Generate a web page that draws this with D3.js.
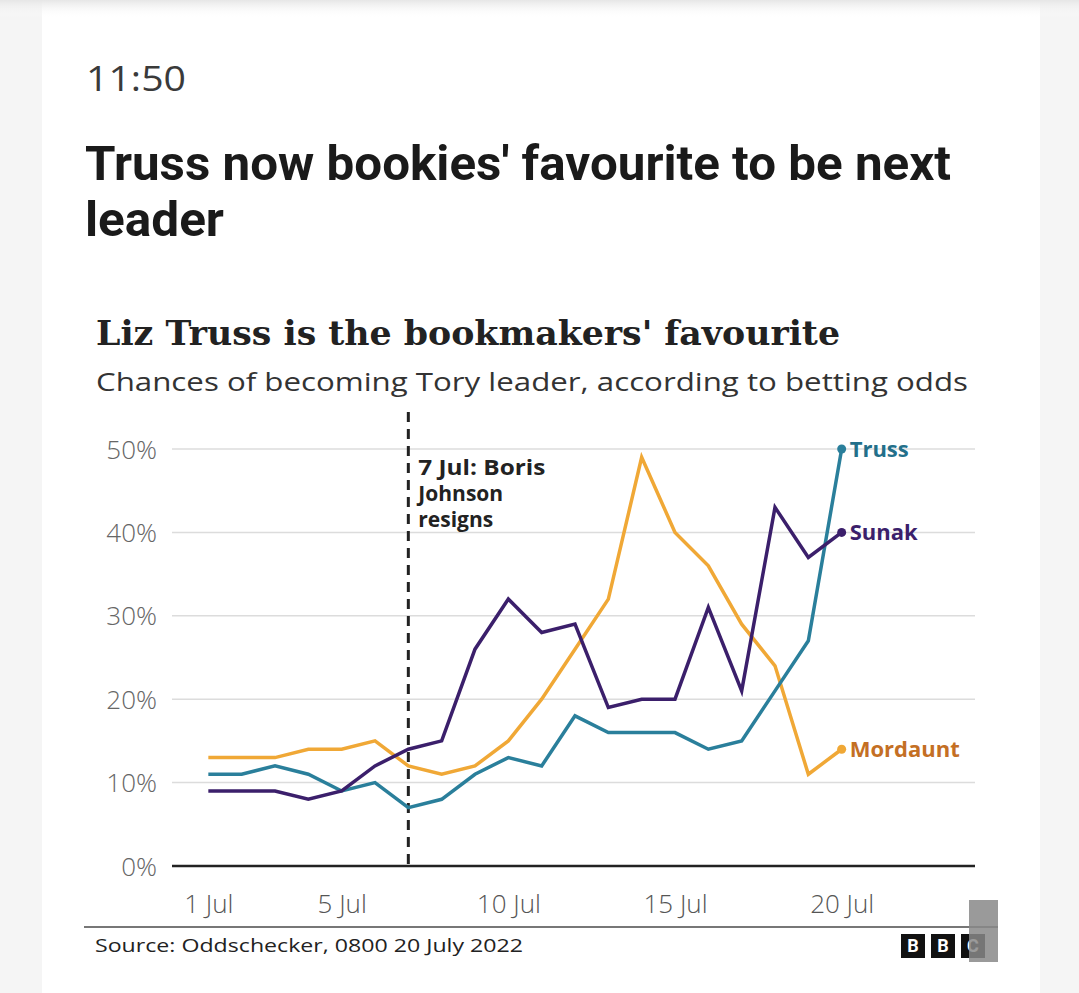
<!DOCTYPE html>
<html>
<head>
<meta charset="utf-8">
<script src="https://cdn.jsdelivr.net/npm/d3@7"></script>
<style>
  html, body { margin: 0; padding: 0; background: #f5f5f5; }
  svg { display: block; }
</style>
</head>
<body>
<svg id="chart" width="1079" height="993"></svg>
<script>
// ---- Data ----
const days = [1,2,3,4,5,6,7,8,9,10,11,12,13,14,15,16,17,18,19,20]; // July dates
const truss    = [11,11,12,11,9,10,7,8,11,13,12,18,16,16,16,14,15,21,27,50];
const sunak    = [9,9,9,8,9,12,14,15,26,32,28,29,19,20,20,31,21,43,37,40];
const mordaunt = [13,13,13,14,14,15,12,11,12,15,20,26,32,49,40,36,29,24,11,14];
const seriesNames = ["Truss","Sunak","Mordaunt"];
const yTicks = [0,10,20,30,40,50];
const xTicks = [1,5,10,15,20];
const xTickLabels = ["1 Jul","5 Jul","10 Jul","15 Jul","20 Jul"];
const eventDay = 7;
const eventLines = ["7 Jul: Boris","Johnson","resigns"];

const svg = d3.select("#chart");

// Page card + top shadow
const defs = svg.append("defs");
const grad = defs.append("linearGradient").attr("id","shadow").attr("x1",0).attr("y1",0).attr("x2",0).attr("y2",1);
grad.append("stop").attr("offset","0%").attr("stop-color","#e6e6e6");
grad.append("stop").attr("offset","100%").attr("stop-color","#ffffff").attr("stop-opacity",0);
svg.append("rect").attr("x",0).attr("y",0).attr("width",1079).attr("height",993).attr("fill","#f5f5f5");
svg.append("rect").attr("x",42).attr("y",0).attr("width",998).attr("height",993).attr("fill","#ffffff");
svg.append("rect").attr("x",0).attr("y",0).attr("width",1079).attr("height",18).attr("fill","url(#shadow)");

// Header
svg.append("text").attr("x",86).attr("y",91)
  .attr("font-family","Open Sans, sans-serif").attr("font-size",35).attr("fill","#3a3a3a")
  .attr("textLength",100).attr("lengthAdjust","spacingAndGlyphs")
  .text("11:50");
const head = [["Truss now bookies' favourite to be next",866],["leader",139]];
head.forEach((h,i)=>{
  svg.append("text").attr("x",85).attr("y",180+i*56)
    .attr("font-family","Roboto, sans-serif").attr("font-weight",700).attr("font-size",48).attr("fill","#1a1a1a")
    .attr("textLength",h[1]).attr("lengthAdjust","spacingAndGlyphs")
    .text(h[0]);
});

// Chart title & subtitle
svg.append("text").attr("x",96).attr("y",345)
  .attr("font-family","DejaVu Serif, serif").attr("font-weight",700).attr("font-size",34).attr("fill","#222")
  .attr("textLength",744).attr("lengthAdjust","spacingAndGlyphs")
  .text("Liz Truss is the bookmakers' favourite");
svg.append("text").attr("x",96).attr("y",391)
  .attr("font-family","Open Sans, sans-serif").attr("font-size",25).attr("fill","#333")
  .attr("textLength",872).attr("lengthAdjust","spacingAndGlyphs")
  .text("Chances of becoming Tory leader, according to betting odds");

// Scales
const x = d3.scaleLinear().domain([0,24]).range([175,975]);
const y = d3.scaleLinear().domain([0,50]).range([866,449]);

// Gridlines
const grid = svg.append("g");
yTicks.filter(t=>t>0).forEach(t=>{
  grid.append("line").attr("x1",172).attr("x2",975).attr("y1",y(t)).attr("y2",y(t))
    .attr("stroke","#dcdcdc").attr("stroke-width",1.5);
});

// Y axis labels via d3 axis
const yAxis = d3.axisLeft(y).tickValues(yTicks).tickFormat(d=>d+"%").tickSize(0).tickPadding(0);
const gy = svg.append("g").attr("transform","translate(157,0)").call(yAxis);
gy.select(".domain").remove();
gy.selectAll("text").attr("font-family","Open Sans, sans-serif").attr("font-size",26).attr("font-weight",300).attr("fill","#666").attr("dy","0.35em");

// X axis
const xAxis = d3.axisBottom(x).tickValues(xTicks).tickFormat((d,i)=>xTickLabels[i]).tickSize(0).tickPadding(0);
const gx = svg.append("g").attr("transform","translate(0,866)").call(xAxis);
gx.select(".domain").remove();
gx.selectAll("text").attr("font-family","Open Sans, sans-serif").attr("font-size",26).attr("font-weight",300).attr("fill","#555").attr("dy","0").attr("y",47);
svg.append("line").attr("x1",172).attr("x2",975).attr("y1",866).attr("y2",866)
  .attr("stroke","#222").attr("stroke-width",2.5);

// Event line
svg.append("line").attr("x1",x(eventDay)).attr("x2",x(eventDay)).attr("y1",412).attr("y2",866)
  .attr("stroke","#222").attr("stroke-width",3).attr("stroke-dasharray","10,7");
eventLines.forEach((t,i)=>{
  svg.append("text").attr("x",x(eventDay)+10).attr("y",475+i*26)
    .attr("font-family","Open Sans, sans-serif").attr("font-weight",700).attr("font-size",21).attr("fill","#222")
    .attr("textLength",i===0?127:null).attr("lengthAdjust","spacingAndGlyphs")
    .text(t);
});

// Lines
const colors = {Truss:"#2a7f9b", Sunak:"#3b1f6b", Mordaunt:"#f0a836"};
const labelColors = {Truss:"#236f8a", Sunak:"#3b1f6b", Mordaunt:"#c46f24"};
const seriesData = {Truss:truss, Sunak:sunak, Mordaunt:mordaunt};
const line = d3.line().x((d,i)=>x(days[i])).y(d=>y(d));
["Mordaunt","Truss","Sunak"].forEach(name=>{
  const vals = seriesData[name];
  svg.append("path").datum(vals).attr("d",line).attr("fill","none")
    .attr("stroke",colors[name]).attr("stroke-width",3.5).attr("stroke-linejoin","miter");
});
seriesNames.forEach(name=>{
  const vals = seriesData[name];
  const last = vals[vals.length-1], lx = x(days[days.length-1]), ly = y(last);
  svg.append("circle").attr("cx",lx).attr("cy",ly).attr("r",4.5).attr("fill",colors[name]);
  svg.append("text").attr("x",lx+8).attr("y",ly).attr("dy","0.35em")
    .attr("font-family","Open Sans, sans-serif").attr("font-weight",700).attr("font-size",22)
    .attr("fill",labelColors[name]).text(name);
});

// Footer
svg.append("line").attr("x1",84).attr("x2",998).attr("y1",927).attr("y2",927)
  .attr("stroke","#777").attr("stroke-width",2);
svg.append("text").attr("x",95).attr("y",952)
  .attr("font-family","Open Sans, sans-serif").attr("font-size",19).attr("fill","#222")
  .attr("textLength",428).attr("lengthAdjust","spacingAndGlyphs")
  .text("Source: Oddschecker, 0800 20 July 2022");
const logo = ["B","B","C"];
logo.forEach((l,i)=>{
  const bx = 901 + i*30;
  svg.append("rect").attr("x",bx).attr("y",934).attr("width",24).attr("height",24).attr("fill","#111");
  svg.append("text").attr("x",bx+12).attr("y",946).attr("dy","0.36em").attr("text-anchor","middle")
    .attr("font-family","Roboto, sans-serif").attr("font-weight",700).attr("font-size",18).attr("fill","#fff").text(l);
});
svg.append("rect").attr("x",969).attr("y",900).attr("width",29).attr("height",62)
  .attr("fill","#888").attr("opacity",0.85);
</script>
</body>
</html>
